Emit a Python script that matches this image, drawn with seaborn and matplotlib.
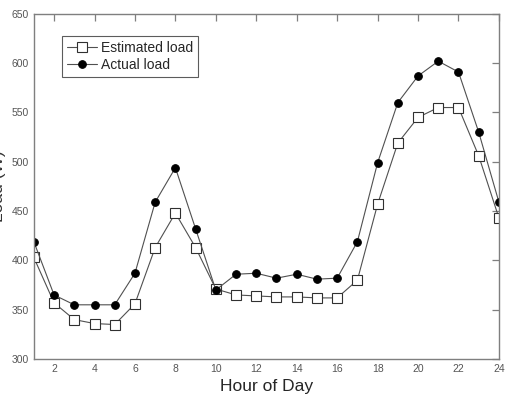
import numpy as np
import pandas as pd
import matplotlib.pyplot as plt
import seaborn as sns

hours = list(range(1, 25))
estimated = [403, 357, 340, 336, 335, 356, 413, 448, 413, 371, 365, 364,
             363, 363, 362, 362, 380, 457, 519, 545, 555, 555, 506, 443]
actual = [419, 365, 355, 355, 355, 387, 459, 494, 432, 370, 386, 387,
          382, 386, 381, 382, 419, 499, 560, 587, 602, 591, 530, 459]
xticks = list(range(2, 25, 2))
yticks = list(range(300, 651, 50))

sns.set_style('white')
plt.rcParams['font.family'] = ['Liberation Sans', 'DejaVu Sans']

df = pd.DataFrame({'hour': hours, 'Estimated load': estimated,
                   'Actual load': actual})

fig = plt.figure(figsize=(5.05, 3.95), dpi=100)
ax = fig.add_axes([0.067, 0.091, 0.921, 0.874])

grey = '#7f7f7f'
line_c = '#505050'
sns.lineplot(data=df, x='hour', y='Estimated load', ax=ax, color=line_c,
             lw=0.8, marker='s', markersize=6.5, markerfacecolor='white',
             markeredgecolor='#303030', markeredgewidth=0.8,
             label='Estimated load')
sns.lineplot(data=df, x='hour', y='Actual load', ax=ax, color=line_c,
             lw=0.8, marker='o', markersize=5.5, markerfacecolor='black',
             markeredgecolor='black', label='Actual load')

ax.set_xlim(1, 24)
ax.set_ylim(300, 650)
ax.set_xticks(xticks)
ax.set_yticks(yticks)
ax.tick_params(direction='in', length=5, width=0.9, colors=grey,
               labelsize=7.5, top=True, right=True, labelcolor='#555555')
for s in ax.spines.values():
    s.set_color(grey)
    s.set_linewidth(1.0)

ax.set_xlabel('Hour of Day', fontsize=12.5)
ax.set_ylabel('Load (W)', fontsize=12.5, color='#333333')
ax.yaxis.set_label_coords(-0.06, 0.5)

leg = ax.legend(loc='upper left', bbox_to_anchor=(0.045, 0.955),
                fontsize=10, frameon=True, fancybox=False,
                handlelength=2.2, handletextpad=0.3, borderpad=0.35,
                labelspacing=0.2)
leg.get_frame().set_edgecolor('#333333')
leg.get_frame().set_linewidth(0.8)

fig.savefig('out.png', dpi=100)
